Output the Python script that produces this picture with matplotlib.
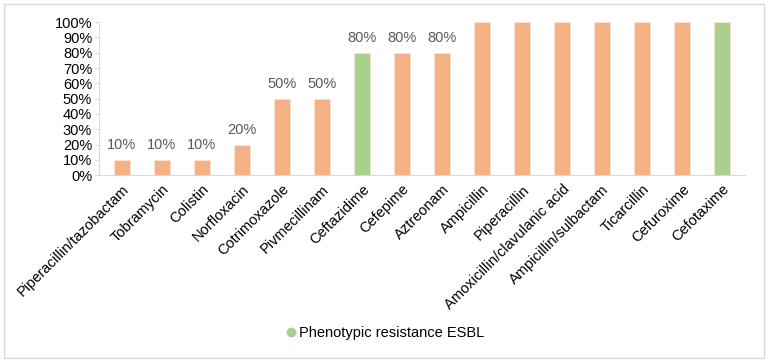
import matplotlib
matplotlib.use("Agg")
import matplotlib.pyplot as plt
from matplotlib.lines import Line2D
from matplotlib.patches import Rectangle
from matplotlib.ticker import PercentFormatter

plt.rcParams['font.family'] = ['Liberation Sans', 'DejaVu Sans']

# data
drugs = ["Piperacillin/tazobactam", "Tobramycin", "Colistin", "Norfloxacin",
         "Cotrimoxazole", "Pivmecillinam", "Ceftazidime", "Cefepime", "Aztreonam",
         "Ampicillin", "Piperacillin", "Amoxicillin/clavulanic acid",
         "Ampicillin/sulbactam", "Ticarcillin", "Cefuroxime", "Cefotaxime"]
resistance = [10, 10, 10, 20, 50, 50, 80, 80, 80, 100, 100, 100, 100, 100, 100, 100]
esbl_marker = ["Ceftazidime", "Cefotaxime"]

orange = "#F4B183"
green = "#A9D18E"
colors = [green if d in esbl_marker else orange for d in drugs]

fig = plt.figure(figsize=(7.68, 3.62), dpi=100)
ax = fig.add_axes([0.129, 0.516, 0.841, 0.423])

x = range(len(drugs))
bars = ax.bar(x, resistance, width=0.4, color=colors, edgecolor="#FBE3D3", linewidth=0.6)

# value labels, only for the ones below 100%
for b, v in zip(bars, resistance):
    if v < 100:
        ax.text(b.get_x() + b.get_width() / 2, v + 5, f"{v}%", ha="center", va="bottom",
                fontsize=10.5, color="#595959")

ax.set_xlim(-0.57, len(drugs) - 0.43)
ax.set_ylim(0, 100)
ax.set_yticks(range(0, 101, 10))
ax.yaxis.set_major_formatter(PercentFormatter(decimals=0))
ax.set_xticks(list(x))
ax.set_xticklabels(drugs, rotation=45, ha="right", rotation_mode="anchor", fontsize=10.5)
ax.tick_params(axis="x", length=0, pad=5)
ax.tick_params(axis="y", length=3, color="#D9D9D9", labelsize=10.5, pad=2)

for s in ["top", "right"]:
    ax.spines[s].set_visible(False)
ax.spines["left"].set_color("#D9D9D9")
ax.spines["bottom"].set_color("#D9D9D9")

handle = Line2D([], [], marker="o", linestyle="none", color=green, markersize=6)
fig.legend([handle], ["Phenotypic resistance ESBL"], loc="center", bbox_to_anchor=(0.5, 0.08),
           frameon=False, fontsize=10.5, handletextpad=0.1, handlelength=1)

# outer frame
fig.patches.append(Rectangle((0.005, 0.01), 0.99, 0.98, transform=fig.transFigure,
                             fill=False, edgecolor="#D9D9D9", linewidth=1))

fig.savefig("out.png", dpi=100)
